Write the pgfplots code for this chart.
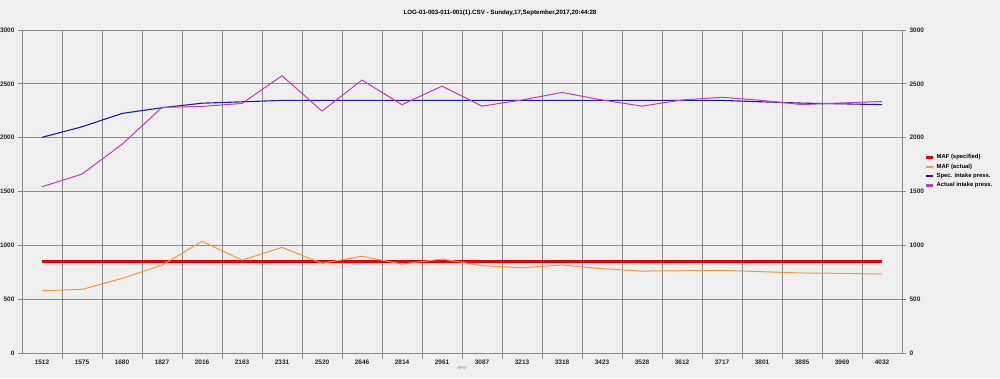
\documentclass[border=0pt]{standalone}
\usepackage{pgfplots}
\pgfplotsset{compat=1.18}
\usepackage{fontspec}
\setmainfont{Liberation Sans}
\definecolor{bg}{HTML}{EFEFEF}
\definecolor{gridc}{HTML}{8C8C8C}
\definecolor{mafspec}{RGB}{225,0,10}
\definecolor{mafact}{HTML}{F39A3C}
\definecolor{specp}{HTML}{1C1CA8}
\definecolor{actp}{HTML}{C23BC2}
\pgfplotstableread{
i mafs mafa specp actp
0 850 578 2003 1544
1 850 591 2101 1662
2 850 693 2225 1938
3 850 817 2278 2281
4 850 1037 2320 2290
5 850 863 2333 2318
6 850 981 2346 2575
7 850 833 2346 2247
8 850 898 2346 2535
9 850 826 2346 2306
10 850 873 2346 2479
11 850 811 2346 2293
12 850 792 2346 2350
13 850 817 2346 2420
14 850 783 2346 2350
15 850 761 2346 2293
16 850 764 2346 2350
17 850 768 2346 2375
18 850 755 2333 2346
19 850 743 2321 2307
20 850 740 2314 2323
21 850 733 2307 2336
}\data
\begin{document}
\begin{tikzpicture}[x=1pt,y=1pt]
\path[use as bounding box, fill=bg] (0,0) rectangle (1000,378);
\node[font=\fontsize{6.2}{8}\selectfont\bfseries] at (500,365) {LOG-01-003-011-001(1).CSV - Sunday,17,September,2017,20:44:28};
\begin{axis}[
  at={(22pt,25pt)}, anchor=south west,
  scale only axis, width=880pt, height=323pt,
  xmin=-0.5, xmax=21.5, ymin=0, ymax=3000,
  xtick={0,...,21},
  xticklabels={1512,1575,1680,1827,2016,2163,2331,2520,2646,2814,2961,3087,3213,3318,3423,3528,3612,3717,3801,3885,3969,4032},
  minor xtick={0.5,1.5,...,20.5},
  xminorgrids=true,
  minor grid style={gridc, line width=0.8pt},
  major x tick style={draw=none},
  minor x tick style={gridc, line width=0.8pt},
  minor tick length=6pt,
  ytick={0,500,...,3000},
  ymajorgrids=true,
  major grid style={gridc, line width=0.8pt},
  major y tick style={gridc, line width=0.8pt},
  major tick length=4pt,
  tick align=outside,
  xtick pos=lower, ytick pos=left,
  axis line style={gridc, line width=0.8pt},
  /pgf/number format/assume math mode=true,
  /pgf/number format/1000 sep={},
  tick label style={font=\fontsize{6.5}{8}\selectfont\bfseries, text=black!85},
  xticklabel style={yshift=1pt},
  xlabel={RPM},
  xlabel style={font=\fontsize{4}{5}\selectfont, text=gray, at={(axis description cs:0.5,0)}, yshift=-10pt, anchor=north},
  legend style={draw=none, fill=none, at={(1,0.5)}, anchor=west, xshift=22pt, yshift=20pt,
    font=\fontsize{5.9}{7.5}\selectfont\bfseries, row sep=-0.5pt, cells={anchor=west},
    inner xsep=1pt},
  legend image code/.code={\draw[#1, line width=2.4pt] (0pt,0pt) -- (7pt,0pt);},
]
\addplot[draw=mafspec, line width=2.4pt] table[x=i, y=mafs] {\data};
\addlegendentry{MAF (specified)}
\addplot[draw=mafact, line width=1pt] table[x=i, y=mafa] {\data};
\addlegendentry{MAF (actual)}
\addplot[draw=specp, line width=1.1pt] table[x=i, y=specp] {\data};
\addlegendentry{Spec. intake press.}
\addplot[draw=actp, line width=1pt] table[x=i, y=actp] {\data};
\addlegendentry{Actual intake press.}
\end{axis}
\begin{axis}[
  at={(22pt,25pt)}, anchor=south west,
  scale only axis, width=880pt, height=323pt,
  xmin=-0.5, xmax=21.5, ymin=0, ymax=3000,
  axis x line=none, axis y line*=right,
  ytick={0,500,...,3000},
  ytick pos=right,
  major y tick style={gridc, line width=0.8pt},
  major tick length=4pt,
  tick align=outside,
  axis line style={gridc, line width=0.8pt},
  /pgf/number format/assume math mode=true,
  /pgf/number format/1000 sep={},
  tick label style={font=\fontsize{6.5}{8}\selectfont\bfseries, text=black!85},
]
\addplot[draw=none] coordinates {(0,0)};
\end{axis}
\end{tikzpicture}
\end{document}
